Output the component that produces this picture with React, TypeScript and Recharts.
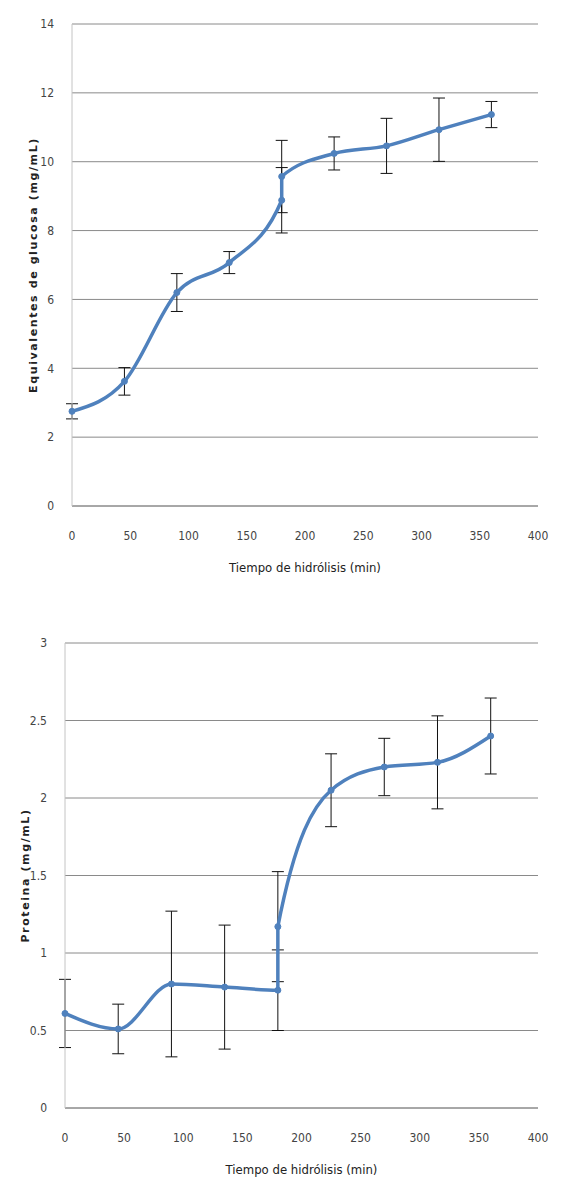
import {
  CartesianGrid,
  ErrorBar,
  Line,
  LineChart,
  XAxis,
  YAxis,
} from "recharts";

// hydrolysis time (min); 180 min was measured twice
const timeMin = [0, 45, 90, 135, 180, 180, 225, 270, 315, 360];

const glucosa = [2.75, 3.62, 6.2, 7.07, 8.88, 9.57, 10.24, 10.46, 10.93, 11.37];
const glucosaErr = [0.22, 0.4, 0.55, 0.32, 0.95, 1.05, 0.48, 0.8, 0.92, 0.38];

const proteina = [0.61, 0.51, 0.8, 0.78, 0.76, 1.17, 2.05, 2.2, 2.23, 2.4];
const proteinaErr = [0.22, 0.16, 0.47, 0.4, 0.26, 0.355, 0.235, 0.185, 0.3, 0.245];

const xTicks = [0, 50, 100, 150, 200, 250, 300, 350, 400];
const glucosaTicks = [0, 2, 4, 6, 8, 10, 12, 14];
const proteinaTicks = [0, 0.5, 1, 1.5, 2, 2.5, 3];

const glucosaData = timeMin.map((t, i) => ({
  t,
  value: glucosa[i],
  err: glucosaErr[i],
}));
const proteinaData = timeMin.map((t, i) => ({
  t,
  value: proteina[i],
  err: proteinaErr[i],
}));

const BLUE = "#4f81bd";
const GRID = "#8a8a8a";
const tickFont = {
  fontFamily: "'Liberation Sans Narrow', 'DejaVu Sans Condensed', sans-serif",
  fontSize: 12,
  fill: "#444",
};
const yTitleStyle = {
  fontFamily: "'DejaVu Sans', sans-serif",
  fontWeight: "bold" as const,
  fontSize: 11,
  letterSpacing: 1.6,
  whiteSpace: "pre" as const,
  fill: "#222",
  textAnchor: "middle" as const,
};
const xTitleStyle = {
  fontFamily: "'Liberation Sans Narrow', 'DejaVu Sans Condensed', sans-serif",
  fontSize: 13,
  fill: "#222",
};

type PanelProps = {
  data: { t: number; value: number; err: number }[];
  height: number;
  top: number;
  yWidth: number;
  yMax: number;
  yTicks: number[];
  yTitle: string;
  yTitleOffset: number;
  xAxisHeight: number;
  xTitleOffset: number;
};

const Panel = ({
  data,
  height,
  top,
  yWidth,
  yMax,
  yTicks,
  yTitle,
  yTitleOffset,
  xAxisHeight,
  xTitleOffset,
}: PanelProps) => (
  <LineChart
    width={561}
    height={height}
    data={data}
    margin={{ top, right: 23, left: 0, bottom: 0 }}
  >
    <CartesianGrid vertical={false} stroke={GRID} strokeWidth={1} />
    <XAxis
      dataKey="t"
      type="number"
      domain={[0, 400]}
      ticks={xTicks}
      height={xAxisHeight}
      tickLine={false}
      axisLine={{ stroke: GRID }}
      tick={tickFont}
      tickMargin={19}
      label={{
        value: "Tiempo de hidrólisis (min)",
        position: "insideBottom",
        offset: xTitleOffset,
        style: xTitleStyle,
      }}
    />
    <YAxis
      type="number"
      domain={[0, yMax]}
      ticks={yTicks}
      width={yWidth}
      tickLine={false}
      axisLine={{ stroke: "#c4c4c4" }}
      tick={tickFont}
      tickMargin={12}
      label={{
        value: yTitle,
        angle: -90,
        position: "insideLeft",
        offset: yTitleOffset,
        style: yTitleStyle,
      }}
    />
    <Line
      type="monotone"
      dataKey="value"
      stroke={BLUE}
      strokeWidth={3.5}
      dot={{ r: 3, fill: BLUE, stroke: BLUE, strokeWidth: 1 }}
      isAnimationActive={false}
    >
      <ErrorBar dataKey="err" width={6} stroke="#111" strokeWidth={1} />
    </Line>
  </LineChart>
);

const App = () => {
  return (
    <div
      style={{
        position: "absolute",
        left: 0,
        top: 0,
        width: 561,
        height: 1178,
        background: "#fff",
      }}
    >
      <Panel
        data={glucosaData}
        height={590}
        top={24}
        yWidth={72}
        yMax={14}
        yTicks={glucosaTicks}
        yTitle="Equivalentes de glucosa  (mg/mL)"
        yTitleOffset={33}
        xAxisHeight={84}
        xTitleOffset={18}
      />
      <div style={{ position: "absolute", left: 0, top: 600 }}>
        <Panel
          data={proteinaData}
          height={578}
          top={43}
          yWidth={65}
          yMax={3}
          yTicks={proteinaTicks}
          yTitle="Proteina  (mg/mL)"
          yTitleOffset={25}
          xAxisHeight={70}
          xTitleOffset={4}
        />
      </div>
    </div>
  );
};

export default App;
